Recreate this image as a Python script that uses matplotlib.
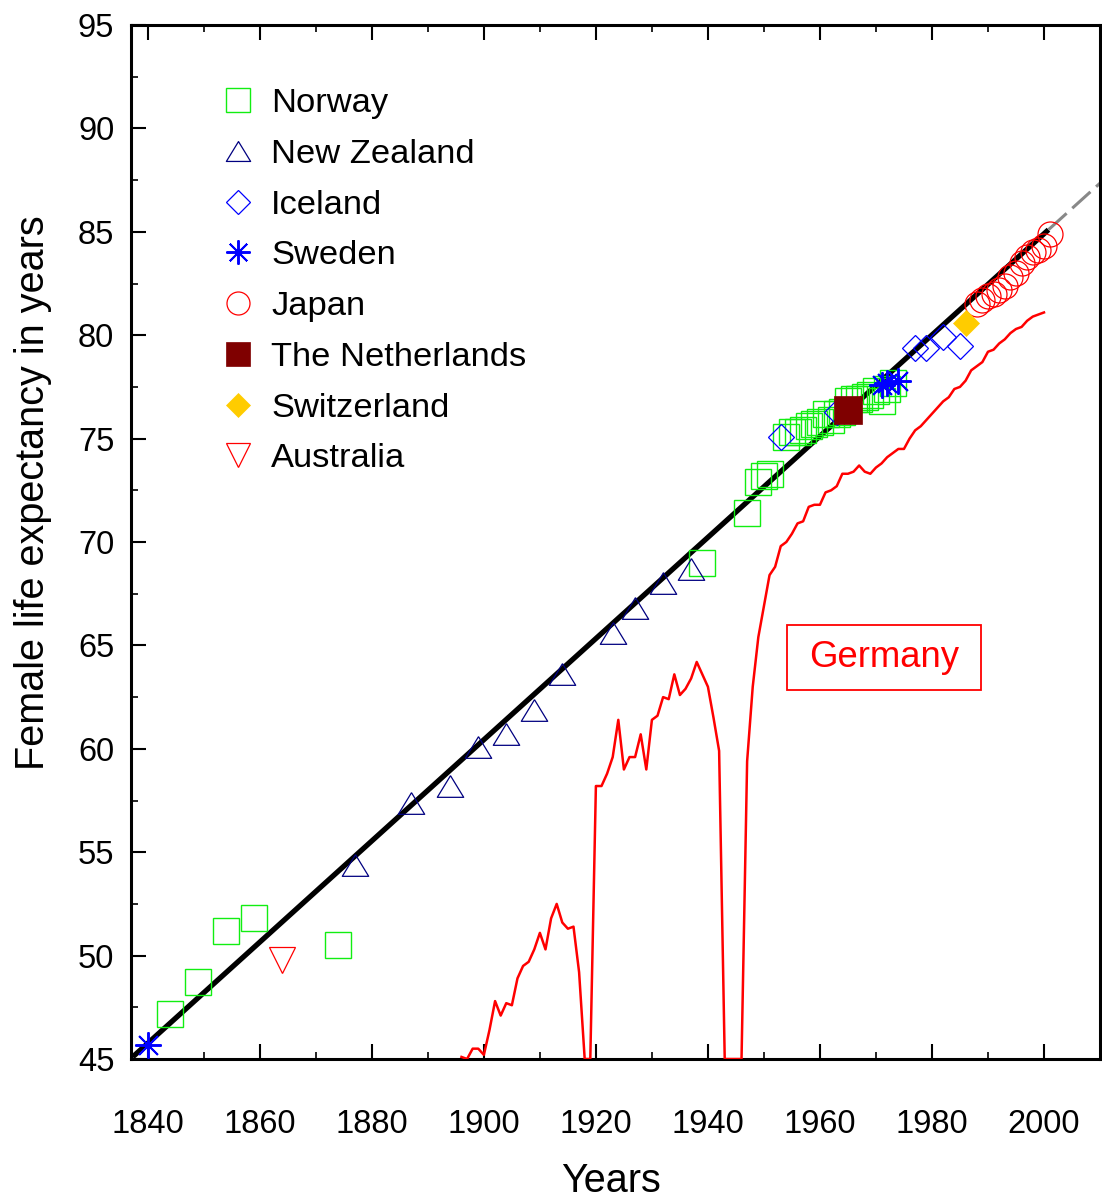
import matplotlib.pyplot as plt
from matplotlib.patches import Rectangle
from matplotlib.ticker import MultipleLocator

plt.rcParams['font.family'] = ['Liberation Sans', 'DejaVu Sans']

# record female life expectancy, by country holding the record
norway_years = [1844, 1849, 1854, 1859, 1874, 1939, 1947, 1949, 1950, 1951,
                1954, 1955, 1956, 1957, 1958, 1959, 1960, 1961, 1962, 1963,
                1964, 1965, 1966, 1967, 1968, 1969, 1970, 1971, 1972, 1973]
norway_vals = [47.2, 48.7, 51.2, 51.8, 50.5, 69.0, 71.4, 72.9, 73.2, 73.3,
               75.1, 75.3, 75.3, 75.4, 75.6, 75.7, 75.8, 76.2, 75.9, 76.2,
               76.3, 76.8, 76.9, 76.9, 77.0, 77.1, 77.3, 76.8, 77.4, 77.7]

nz_years = [1877, 1887, 1894, 1899, 1904, 1909, 1914, 1923, 1927, 1932, 1937]
nz_vals = [54.4, 57.4, 58.2, 60.1, 60.7, 61.9, 63.6, 65.6, 66.8, 68.0, 68.7]

iceland_years = [1953, 1963, 1977, 1979, 1982, 1985]
iceland_vals = [75.1, 76.3, 79.4, 79.4, 79.9, 79.5]

sweden_years = [1840, 1971, 1972, 1974]
sweden_vals = [45.7, 77.6, 77.7, 77.8]

japan_years = [1988, 1989, 1990, 1991, 1992, 1993, 1994, 1995, 1996, 1997,
               1998, 1999, 2000, 2001]
japan_vals = [81.5, 81.7, 81.9, 82.0, 82.2, 82.4, 82.8, 83.0, 83.5, 83.8,
              84.0, 84.1, 84.3, 84.9]

netherlands_years = [1965]
netherlands_vals = [76.4]

switzerland_years = [1986]
switzerland_vals = [80.6]

australia_years = [1864]
australia_vals = [49.8]

# Germany (values below the axis floor drawn at 45)
germany_years = list(range(1896, 2001))
germany_vals = [45.1, 45.0, 45.5, 45.5, 45.2, 46.4, 47.8, 47.1, 47.7, 47.6,
                48.9, 49.5, 49.7, 50.3, 51.1, 50.3, 51.8, 52.5, 51.6, 51.3,
                51.4, 49.2, 45.0, 45.0, 58.2, 58.2, 58.8, 59.6, 61.4, 59.0,
                59.6, 59.6, 60.7, 59.0, 61.4, 61.6, 62.5, 62.4, 63.6, 62.6,
                62.9, 63.4, 64.2, 63.6, 63.0, 61.5, 59.9, 45.0, 45.0, 45.0,
                45.0, 59.4, 63.0, 65.4, 66.9, 68.4, 68.8, 69.8, 70.0, 70.4,
                70.9, 71.0, 71.7, 71.8, 71.8, 72.4, 72.5, 72.7, 73.3, 73.3,
                73.4, 73.7, 73.4, 73.3, 73.6, 73.8, 74.1, 74.3, 74.5, 74.5,
                75.0, 75.4, 75.6, 75.9, 76.2, 76.5, 76.8, 77.0, 77.4, 77.5,
                77.8, 78.3, 78.5, 78.7, 79.2, 79.3, 79.6, 79.8, 80.1, 80.3,
                80.4, 80.7, 80.9, 81.0, 81.1]

# best-practice trend and its extrapolation
trend_years = [1837.3, 2000.8]
trend_vals = [45.1, 85.1]
proj_years = [2000.8, 2012]
proj_vals = [85.1, 87.84]

fig = plt.figure(figsize=(11.02, 12.01), dpi=100)
ax = fig.add_axes([131 / 1102, 142 / 1201, 969 / 1102, 1034 / 1201])

ax.plot(germany_years, germany_vals, color='#ff0000', lw=1.8, zorder=3)
ax.plot(trend_years, trend_vals, color='black', lw=3.8, solid_capstyle='butt', zorder=2)
ax.plot(proj_years, proj_vals, color='#888888', lw=2.2, dashes=(8, 2.5), zorder=2)

tri_up = [(0, 0.82), (-1, -0.82), (1, -0.82), (0, 0.82)]

h_nor, = ax.plot(norway_years, norway_vals, ls='none', marker='s', ms=19,
                 mfc='none', mec='#11ee11', mew=1.0, label='Norway', zorder=4)
h_nz, = ax.plot(nz_years, nz_vals, ls='none', marker=tri_up, ms=19,
                mfc='none', mec='#000080', mew=0.9, label='New Zealand', zorder=4)
h_ice, = ax.plot(iceland_years, iceland_vals, ls='none', marker='D', ms=13,
                 mfc='none', mec='#0000ff', mew=0.9, label='Iceland', zorder=4)
h_swe, = ax.plot(sweden_years, sweden_vals, ls='none', marker=(8, 2, 0), ms=19,
                 mec='#0000ff', mew=1.4, label='Sweden', zorder=4)
h_jap, = ax.plot(japan_years, japan_vals, ls='none', marker='o', ms=18,
                 mfc='none', mec='#ff0000', mew=0.9, label='Japan', zorder=4)
h_net, = ax.plot(netherlands_years, netherlands_vals, ls='none', marker='s', ms=19.5,
                 mfc='#7f0000', mec='#7f0000', mew=0.5, label='The Netherlands', zorder=4)
h_swi, = ax.plot(switzerland_years, switzerland_vals, ls='none', marker='D', ms=13.2,
                 mfc='#ffcc00', mec='#ffcc00', mew=0.5, label='Switzerland', zorder=4)
h_aus, = ax.plot(australia_years, australia_vals, ls='none', marker='v', ms=19,
                 mfc='none', mec='#ff0000', mew=0.9, label='Australia', zorder=4)

ax.set_xlim(1837, 2010)
ax.set_ylim(45, 95)

ax.xaxis.set_major_locator(MultipleLocator(20))
ax.xaxis.set_minor_locator(MultipleLocator(10))
ax.yaxis.set_major_locator(MultipleLocator(5))
ax.yaxis.set_minor_locator(MultipleLocator(2.5))
ax.tick_params(which='both', direction='in', top=True, right=False, labeltop=False)
ax.tick_params(which='major', length=10.5, width=1.5, labelsize=23.5)
ax.tick_params(which='minor', length=5, width=1.2)
ax.tick_params(axis='x', which='major', pad=36)
ax.tick_params(axis='y', which='major', pad=12)
for s in ax.spines.values():
    s.set_linewidth(2.2)

ax.set_xlabel('Years', fontsize=28.5)
ax.set_ylabel('Female life expectancy in years', fontsize=28.5)
ax.xaxis.set_label_coords(0.495, -0.0996)
ax.yaxis.set_label_coords(-0.0815, 0.548)

# Germany label box
ax.add_patch(Rectangle((1954.1, 62.84), 34.65, 3.15, fill=False, ec='#ff0000', lw=1.3, zorder=3))
ax.text(1971.4, 64.42, 'Germany', color='#ff0000', fontsize=26.3, ha='center', va='center')

ax.legend(handles=[h_nor, h_nz, h_ice, h_swe, h_jap, h_net, h_swi, h_aus],
          loc='upper left', bbox_to_anchor=(0.093, 0.939), frameon=False,
          fontsize=24.8, handlelength=1.0, handletextpad=0.45, labelspacing=0.57,
          borderpad=0, borderaxespad=0, markerscale=0.92, numpoints=1)

fig.savefig('out.png', dpi=100)
